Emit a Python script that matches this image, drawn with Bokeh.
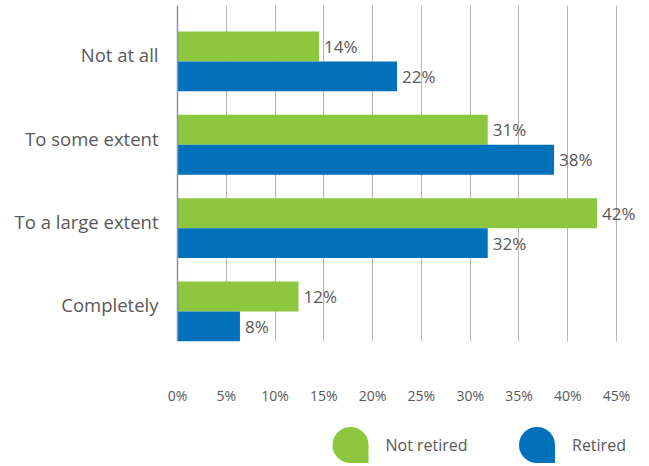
from bokeh.plotting import figure
from bokeh.models import Range1d, FixedTicker, ColumnDataSource
from bokeh.layouts import column
from bokeh.core.properties import value
from bokeh.embed import file_html
from bokeh.resources import INLINE

# ---- data ----
categories = ["Not at all", "To some extent", "To a large extent", "Completely"]
not_retired = [14.5, 31.8, 43.0, 12.4]
retired = [22.5, 38.6, 31.8, 6.4]
not_retired_labels = ["14%", "31%", "42%", "12%"]
retired_labels = ["22%", "38%", "32%", "8%"]
series_names = ["Not retired", "Retired"]
series_colors = ["#8DC63F", "#0071BA"]
x_ticks = [0, 5, 10, 15, 20, 25, 30, 35, 40, 45]
x_tick_labels = ["0%", "5%", "10%", "15%", "20%", "25%", "30%", "35%", "40%", "45%"]

FONT = "Open Sans"
TEXT_COLOR = "#595959"

W = 649
idx = list(range(len(categories)))
px_per_unit = 83.5
bar_h = 30 / px_per_unit
shift = 0.08
green_y = [i + shift - bar_h / 2 for i in idx]
blue_y = [i + shift + bar_h / 2 for i in idx]

frame_left = 177
px_per_pct = 9.756
x_end = (W - frame_left) / px_per_pct

p = figure(width=W, height=418, output_backend="svg", toolbar_location=None,
           x_range=Range1d(0, x_end),
           y_range=Range1d(3 + shift + bar_h, shift - 56 / px_per_unit),
           min_border_left=frame_left, min_border_right=0, min_border_top=5,
           min_border_bottom=77)
p.outline_line_color = None
p.background_fill_color = "white"

src_g = ColumnDataSource(dict(y=green_y, v=not_retired, t=not_retired_labels))
src_b = ColumnDataSource(dict(y=blue_y, v=retired, t=retired_labels))

p.hbar(y="y", left=0, right="v", height=bar_h, source=src_g,
       fill_color=series_colors[0], line_color=None)
p.hbar(y="y", left=0, right="v", height=bar_h, source=src_b,
       fill_color=series_colors[1], line_color=None)

for src in (src_g, src_b):
    p.text(x="v", y="y", text="t", source=src, x_offset=5,
           text_baseline="middle", text_align="left",
           text_font=value(FONT), text_font_size="17px", text_color=TEXT_COLOR)

# grid
p.ygrid.grid_line_color = None
p.xgrid.ticker = FixedTicker(ticks=x_ticks)
p.xgrid.grid_line_color = "#b5b5b5"
p.xgrid.grid_line_width = 1

# x axis
p.xaxis.ticker = FixedTicker(ticks=x_ticks)
p.xaxis.major_label_overrides = {t: l for t, l in zip(x_ticks, x_tick_labels)}
p.xaxis.axis_line_color = None
p.xaxis.major_tick_line_color = None
p.xaxis.minor_tick_line_color = None
p.xaxis.major_label_standoff = 38
p.xaxis.major_label_text_font = FONT
p.xaxis.major_label_text_font_size = "14px"
p.xaxis.major_label_text_color = TEXT_COLOR

# y axis
p.yaxis.ticker = FixedTicker(ticks=idx)
p.yaxis.major_label_overrides = {i: c for i, c in zip(idx, categories)}
p.yaxis.axis_line_color = "#8497B0"
p.yaxis.axis_line_width = 1.5
p.yaxis.major_tick_line_color = None
p.yaxis.minor_tick_line_color = None
p.yaxis.major_label_standoff = 13
p.yaxis.major_label_text_font = FONT
p.yaxis.major_label_text_font_size = "18.5px"
p.yaxis.major_label_text_color = TEXT_COLOR

# ---- legend strip (pixel coordinates; its frame is aligned with the main frame) ----
LH = 48
lg = figure(width=W, height=LH, output_backend="svg", toolbar_location=None,
            x_range=Range1d(frame_left, W), y_range=Range1d(LH, 0),
            min_border=0, min_border_left=frame_left, min_border_right=0,
            min_border_top=0, min_border_bottom=0)
lg.outline_line_color = None
lg.axis.visible = False
lg.grid.visible = False

leg_cx = [350, 536.5]
leg_cy = 26.5
r = 18
lsrc = ColumnDataSource(dict(cx=leg_cx, cy=[leg_cy] * 2, c=series_colors,
                             left=leg_cx, right=[x + r for x in leg_cx],
                             top=[leg_cy] * 2, bottom=[leg_cy + r] * 2,
                             tx=[x + 35 for x in leg_cx], name=series_names))
lg.scatter(x="cx", y="cy", size=2 * r, marker="circle", fill_color="c",
           line_color=None, source=lsrc)
lg.quad(left="left", right="right", top="top", bottom="bottom",
        fill_color="c", line_color=None, source=lsrc)
lg.text(x="tx", y="cy", text="name", source=lsrc, text_baseline="middle",
        text_font=value(FONT), text_font_size="16px", text_color=TEXT_COLOR)

layout = column(p, lg, spacing=0)
open("out.html", "w").write(file_html(layout, INLINE))
